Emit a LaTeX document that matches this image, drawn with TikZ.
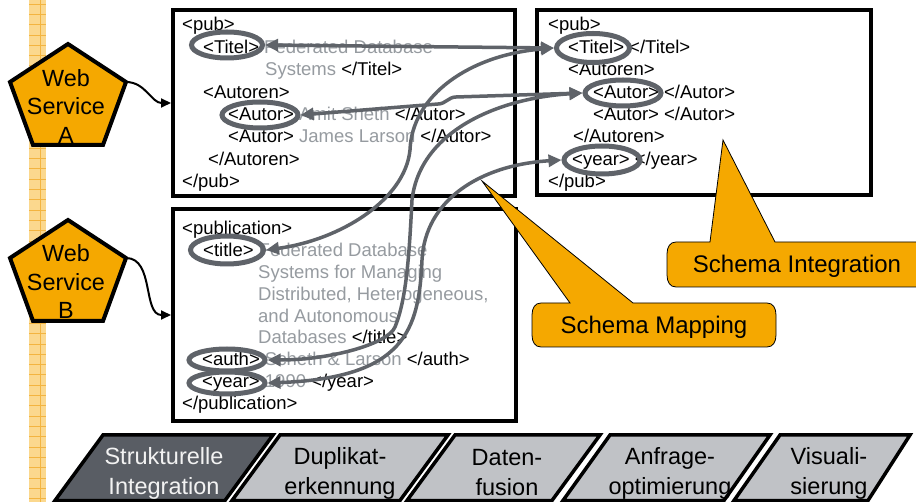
\documentclass[tikz,border=0pt]{standalone}
\usepackage{fontspec}
\setmainfont{Liberation Sans}
\usetikzlibrary{arrows.meta,shapes.geometric}

\definecolor{orng}{RGB}{245,168,0}
\definecolor{stripefill}{RGB}{251,216,142}
\definecolor{stripeline}{RGB}{243,180,64}
\definecolor{mapgray}{RGB}{95,99,105}
\definecolor{txtgray}{RGB}{150,155,160}
\definecolor{stepdark}{RGB}{89,93,100}
\definecolor{steplight}{RGB}{192,194,198}
\definecolor{steptextlight}{RGB}{242,242,242}

\newcommand\gtxt[1]{\textcolor{txtgray}{#1}}

\tikzset{
  xmltext/.style={anchor=base west, inner sep=0pt, font=\fontsize{18.5}{22}\selectfont},
  xmlbox/.style={draw=black, line width=4pt, fill=white, inner sep=0pt},
  tagring/.style={ellipse, draw=mapgray, line width=5pt, inner sep=0pt},
  maparrow/.style={draw=mapgray, line width=3.5pt,
    {Triangle[length=13pt,width=12pt]}-{Triangle[length=13pt,width=12pt]}},
  feedarrow/.style={draw=black, line width=2pt, -{Triangle[length=10pt,width=9pt]}},
  service/.style={fill=orng, draw=black, line width=4pt, line join=miter},
  servicetext/.style={align=center, inner sep=0pt, font=\fontsize{23.4}{28.5}\selectfont},
  calloutshape/.style={fill=orng, draw=black, line width=0.8pt},
  callouttext/.style={anchor=base, inner sep=0pt, font=\fontsize{24}{28}\selectfont},
  stepshape/.style={draw=black, line width=3.5pt, line join=miter},
  steptext/.style={align=center, inner sep=0pt, font=\fontsize{23.5}{30}\selectfont},
}

\begin{document}
\begin{tikzpicture}[x=1pt,y=-1pt]
\useasboundingbox (0,0) rectangle (916,502);
\clip (0,0) rectangle (916,502);

% guide stripe on the left
\fill[stripefill] (29,0) rectangle (46,502);
\foreach \yy in {4,14.3,...,502} \draw[stripeline, line width=0.6pt] (29,\yy) -- (46,\yy);
\draw[stripeline, line width=0.8pt] (40,0) -- (40,502);

% web services
\draw[service] (68,44) -- (126,82) -- (103,145) -- (33,145) -- (10,82) -- cycle;
\coordinate (wsAout) at (126,82);
\node[servicetext] (wsA) at (66,106.5) {Web\\Service\\A};
\draw[service] (68,220) -- (126,258) -- (103,321) -- (33,321) -- (10,258) -- cycle;
\coordinate (wsBout) at (126,258);
\node[servicetext] (wsB) at (66,282) {Web\\Service\\B};

% document boxes
\node[xmlbox, minimum width=342pt, minimum height=186pt] (docA) at (344,103) {};
\node[xmlbox, minimum width=343pt, minimum height=212pt] (docB) at (344.5,315) {};
\node[xmlbox, minimum width=334pt, minimum height=185pt] (docT) at (704,102.5) {};

\draw[feedarrow] (wsAout) to[out=0,in=180] (docA.west);
\draw[feedarrow] (wsBout) to[out=0,in=180] (docB.west);

% source document A
\node[xmltext] (a1) at (182,31)    {<pub>};
\node[xmltext] (a2) at (203,53.4)  {<Titel> \gtxt{Federated Database}};
\node[xmltext] (a3) at (265,75.8)  {\gtxt{Systems} </Titel>};
\node[xmltext] (a4) at (203,98.2)  {<Autoren>};
\node[xmltext] (a5) at (228,120.6) {<Autor> \gtxt{Amit Sheth} </Autor>};
\node[xmltext] (a6) at (228,143)   {<Autor> \gtxt{James Larson} </Autor>};
\node[xmltext] (a7) at (208,165.4) {</Autoren>};
\node[xmltext] (a8) at (182,187.8) {</pub>};

% target schema
\node[xmltext] (c1) at (548,31)    {<pub>};
\node[xmltext] (c2) at (568,53.4)  {<Titel> </Titel>};
\node[xmltext] (c3) at (568,75.8)  {<Autoren>};
\node[xmltext] (c4) at (593,98.2)  {<Autor> </Autor>};
\node[xmltext] (c5) at (593,120.6) {<Autor> </Autor>};
\node[xmltext] (c6) at (573,143)   {</Autoren>};
\node[xmltext] (c7) at (572,165.4) {<year> </year>};
\node[xmltext] (c8) at (548,187.8) {</pub>};

% source document B
\node[xmltext] (b1) at (182,234.5) {<publication>};
\node[xmltext] (b2) at (203,256.4) {<title> \gtxt{Federated Database}};
\node[xmltext] (b3) at (258,278.3) {\gtxt{Systems for Managing}};
\node[xmltext] (b4) at (258,300.2) {\gtxt{Distributed, Heterogeneous,}};
\node[xmltext] (b5) at (258,322.1) {\gtxt{and Autonomous}};
\node[xmltext] (b6) at (258,344)   {\gtxt{Databases} </title>};
\node[xmltext] (b7) at (202,365.9) {<auth> \gtxt{Scheth \& Larson} </auth>};
\node[xmltext] (b8) at (202,387.8) {<year> \gtxt{1990} </year>};
\node[xmltext] (b9) at (182,409.7) {</publication>};

% callouts
\path[calloutshape] (676,242) -- (710,242) -- (723,140) -- (775,242) -- (930,242)
  -- (930,287) -- (676,287) .. controls (670,287) and (667,282) .. (667,275)
  -- (667,254) .. controls (667,247) and (670,242) .. (676,242) -- cycle;
\node[callouttext] (schemaInt) at (797,272.6) {Schema Integration};

\path[calloutshape] (541,303) -- (570,303) -- (482,181) -- (633,303) -- (767,303)
  .. controls (773,303) and (776,308) .. (776,315) -- (776,335)
  .. controls (776,342) and (773,347) .. (767,347) -- (541,347)
  .. controls (535,347) and (532,342) .. (532,335) -- (532,315)
  .. controls (532,308) and (535,303) .. (541,303) -- cycle;
\node[callouttext] (schemaMap) at (654,333.6) {Schema Mapping};

% highlighted tags
\node[tagring, minimum width=71pt, minimum height=26pt] (sTitel) at (227,45) {};
\node[tagring, minimum width=76pt, minimum height=26pt] (sAutor) at (260,115) {};
\node[tagring, minimum width=73pt, minimum height=29pt] (tTitel) at (593,48) {};
\node[tagring, minimum width=76pt, minimum height=26pt] (tAutor) at (623,93) {};
\node[tagring, minimum width=76pt, minimum height=28pt] (tYear) at (602,160) {};
\node[tagring, minimum width=73pt, minimum height=28pt] (bTitle) at (227,250) {};
\node[tagring, minimum width=76pt, minimum height=22pt] (bAuth) at (227,360) {};
\node[tagring, minimum width=76pt, minimum height=22pt] (bYear) at (227,383) {};

% correspondences
\draw[maparrow] (sTitel.east) -- (tTitel.west);
\draw[maparrow] (sAutor.east) -- (438,104) to[out=0,in=180] (456,97) -- (tAutor.west);
\draw[maparrow] (tTitel.west) .. controls (470,55) and (412,95) .. (410,150)
  .. controls (405,200) and (340,240) .. (bTitle.east);
\draw[maparrow] (tAutor.west) .. controls (500,98) and (420,130) .. (412,200)
  .. controls (409,260) and (406,300) .. (395,327)
  .. controls (388,344) and (330,360) .. (bAuth.east);
\draw[maparrow] (tYear.west) .. controls (480,165) and (425,200) .. (422,260)
  .. controls (419,330) and (405,378) .. (bYear.east);

% process steps
\draw[stepshape, fill=stepdark] (103,435) -- (273,435) -- (225,500.5) -- (55,500.5) -- cycle;
\node[steptext, text=steptextlight] (st1) at (164,473) {Strukturelle\\Integration};
\draw[stepshape, fill=steplight] (280,435) -- (448,435) -- (400,500.5) -- (232,500.5) -- cycle;
\node[steptext] (st2) at (340,473) {Duplikat-\\erkennung};
\draw[stepshape, fill=steplight] (455,435) -- (600,435) -- (552,500.5) -- (407,500.5) -- cycle;
\node[steptext] (st3) at (507,473) {Daten-\\fusion};
\draw[stepshape, fill=steplight] (610,435) -- (770,435) -- (724,500.5) -- (563,500.5) -- cycle;
\node[steptext] (st4) at (670,473) {Anfrage-\\optimierung};
\draw[stepshape, fill=steplight] (780,435) -- (910,435) -- (868,500.5) -- (734,500.5) -- cycle;
\node[steptext] (st5) at (829,473) {Visuali-\\sierung};
\end{tikzpicture}
\end{document}
